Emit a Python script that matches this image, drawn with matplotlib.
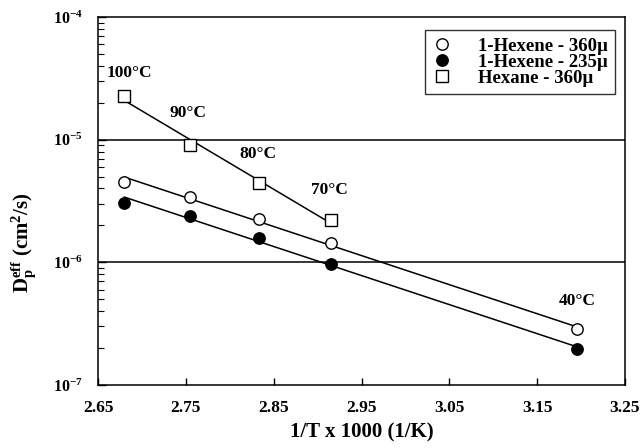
import numpy as np
import matplotlib
matplotlib.use("Agg")
import matplotlib.pyplot as plt
from matplotlib.ticker import LogLocator, NullFormatter

plt.rcParams['font.family'] = 'Liberation Serif'
plt.rcParams['font.weight'] = 'bold'
plt.rcParams['mathtext.fontset'] = 'custom'
plt.rcParams['mathtext.rm'] = 'Liberation Serif:bold'
plt.rcParams['mathtext.it'] = 'Liberation Serif:bold'
plt.rcParams['mathtext.bf'] = 'Liberation Serif:bold'

# Inverse temperature x 1000 (1/K)
invT_hexene = [2.680, 2.755, 2.833, 2.915, 3.195]
invT_hexane = [2.680, 2.755, 2.833, 2.915]

# Effective diffusivity (cm^2/s)
hexene_360 = [4.52e-6, 3.41e-6, 2.26e-6, 1.44e-6, 2.86e-7]
hexene_235 = [3.05e-6, 2.39e-6, 1.58e-6, 9.7e-7, 1.97e-7]
hexane_360 = [2.27e-5, 9.06e-6, 4.44e-6, 2.22e-6]

legend_labels = ['1-Hexene - 360\u00b5', '1-Hexene - 235\u00b5', 'Hexane - 360\u00b5']

temp_labels = ['100°C', '90°C', '80°C', '70°C', '40°C']
temp_label_x = [2.686, 2.7525, 2.832, 2.914, 3.1956]
temp_label_y = [3.5e-5, 1.65e-5, 7.64e-6, 3.89e-6, 4.84e-7]

xticks = [2.65, 2.75, 2.85, 2.95, 3.05, 3.15, 3.25]
yticks = [1e-7, 1e-6, 1e-5, 1e-4]
ytick_labels = [r'$10^{-7}$', r'$10^{-6}$', r'$10^{-5}$', r'$10^{-4}$']

W, H = 642, 448
L, R, T, B = 98, 625, 17, 385
fig = plt.figure(figsize=(W / 100, H / 100), dpi=100)
ax = fig.add_axes([L / W, 1 - B / H, (R - L) / W, (B - T) / H])

def fitline(x, y):
    x = np.array(x); y = np.array(y)
    p = np.polyfit(x, np.log10(y), 1)
    xs = np.array([x.min(), x.max()])
    return xs, 10 ** np.polyval(p, xs)

for x, y in [(invT_hexene, hexene_360), (invT_hexene, hexene_235), (invT_hexane, hexane_360)]:
    xs, ys = fitline(x, y)
    ax.plot(xs, ys, color='black', lw=1.1, zorder=2)

ax.plot(invT_hexene, hexene_360, 'o', ms=8.2, mfc='white', mec='black', mew=1.0, ls='none', label=legend_labels[0], zorder=3)
ax.plot(invT_hexene, hexene_235, 'o', ms=8.2, mfc='black', mec='black', mew=1.0, ls='none', label=legend_labels[1], zorder=3)
ax.plot(invT_hexane, hexane_360, 's', ms=8.8, mfc='white', mec='black', mew=1.0, ls='none', label=legend_labels[2], zorder=3)

for t, x, y in zip(temp_labels, temp_label_x, temp_label_y):
    ax.text(x, y, t, ha='center', va='center', fontsize=12.5, fontweight='bold')

ax.set_yscale('log')
ax.set_ylim(1e-7, 1e-4)
ax.set_xlim(2.65, 3.25)
ax.set_xticks(xticks)
ax.set_xticklabels([f'{v:.2f}' for v in xticks], fontsize=12.5, fontweight='bold')
ax.set_yticks(yticks)
ax.set_yticklabels(ytick_labels, fontsize=11.5)
ax.yaxis.set_minor_locator(LogLocator(base=10, subs=np.arange(2, 10), numticks=10))
ax.yaxis.set_minor_formatter(NullFormatter())
ax.tick_params(axis='x', which='major', direction='in', length=5, width=1, pad=11)
ax.tick_params(axis='y', which='major', direction='in', length=6, width=1, pad=11)
ax.tick_params(axis='y', which='minor', direction='in', length=4, width=0.8)

for yv in [1e-6, 1e-5]:
    ax.axhline(yv, color='black', lw=1.1, zorder=1)

for s in ax.spines.values():
    s.set_linewidth(1.1)

ax.set_xlabel('1/T x 1000 (1/K)', fontsize=15, fontweight='bold')
ax.xaxis.set_label_coords(0.5, (B - 422) / (B - T))
ax.set_ylabel(r'$\mathrm{D_p^{eff}}$ (cm$^{2}$/s)', fontsize=15, fontweight='bold')
ax.yaxis.set_label_coords((38 - L) / (R - L), (B - 243) / (B - T))

leg = ax.legend(loc='upper right', bbox_to_anchor=(615 / W, 1 - 30 / H), bbox_transform=fig.transFigure,
                frameon=True, fancybox=False, edgecolor='black', fontsize=13.5,
                handletextpad=1.4, labelspacing=-0.05, borderpad=0.4, handlelength=1.0,
                borderaxespad=0)
leg.get_frame().set_linewidth(1.0)

fig.savefig('out.png', dpi=100)
